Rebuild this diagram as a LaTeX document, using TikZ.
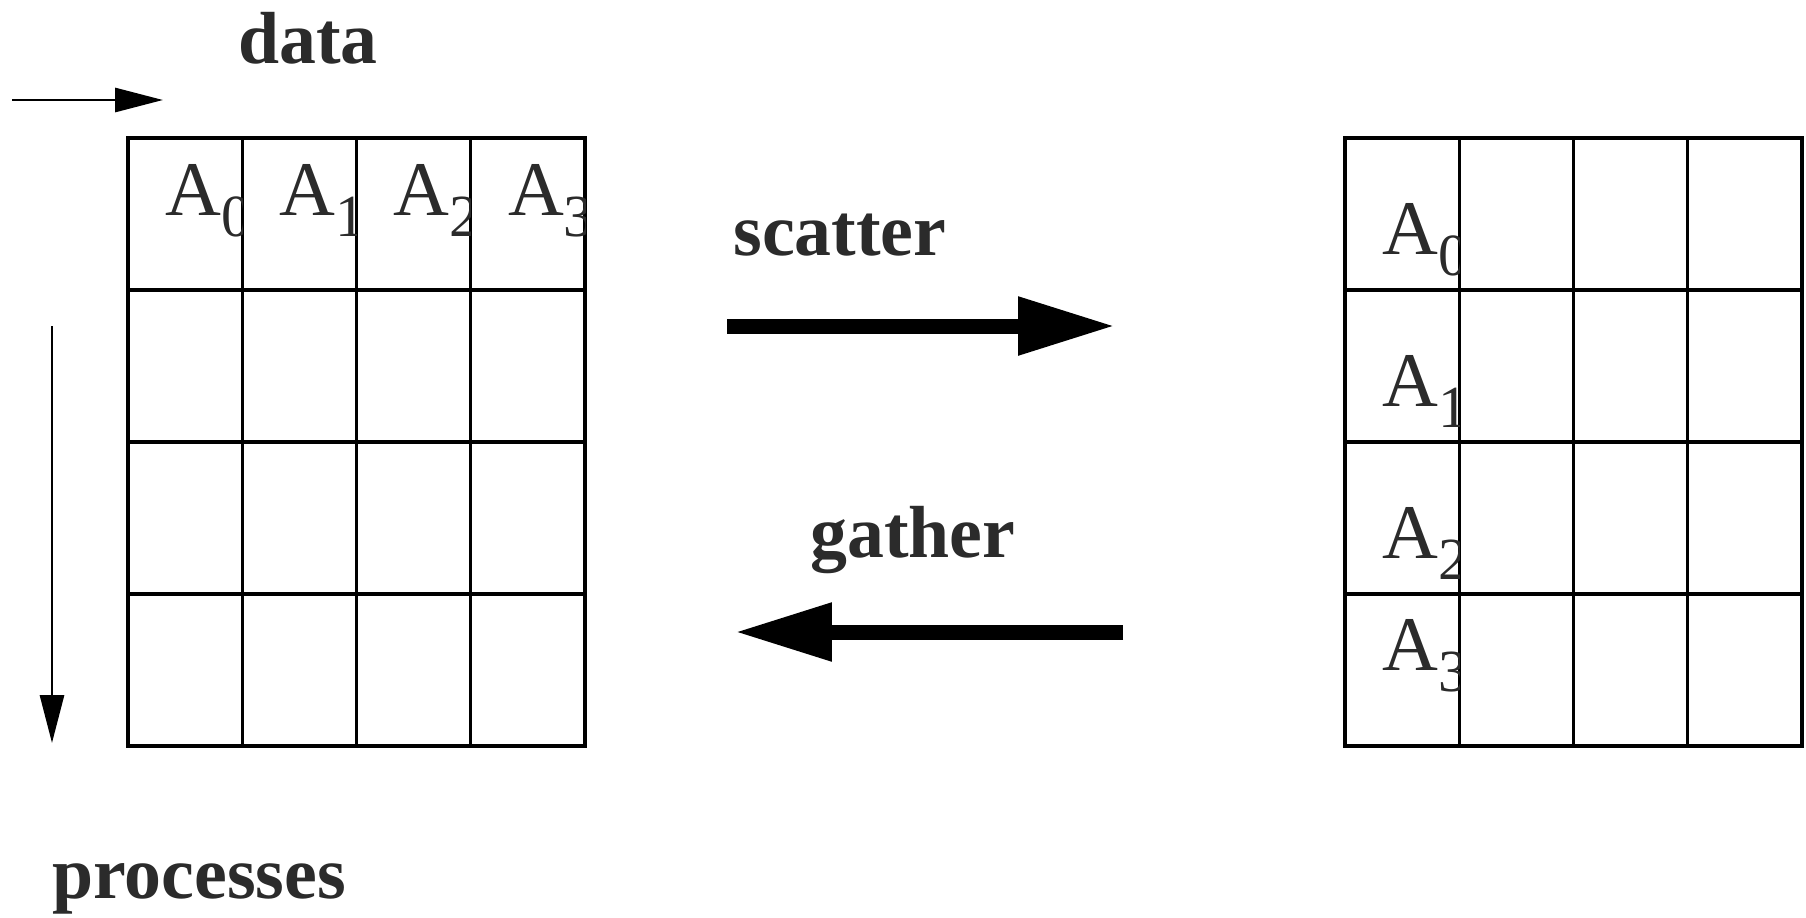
\documentclass[tikz,border=0pt]{standalone}
\usepackage{fontspec}
\setmainfont{Liberation Serif}
\usetikzlibrary{arrows.meta}
\definecolor{ink}{gray}{0.17}
\newcommand{\idx}[1]{\raisebox{-12.5pt}{\fontsize{34}{34}\selectfont #1}}

\begin{document}
\begin{tikzpicture}[x=0.02cm, y=-0.02cm,
  cell/.style={line width=1.9pt},
  word/.style={inner sep=0, anchor=base west, text=ink, font=\fontsize{42}{50}\selectfont\bfseries},
  entry/.style={inner sep=0, anchor=base west, text=ink, font=\fontsize{44}{50}\selectfont},
  slim/.style={line width=1.7pt, -{Triangle[length=0.96cm, width=0.48cm]}},
  fat/.style={line width=0.3cm, -{Triangle[length=1.94cm, width=1.1cm]}}]
  \useasboundingbox (0,0) rectangle (1806,917);

  % Axes
  \coordinate (d0) at (12,100);
  \coordinate (d1) at (163,100);
  \coordinate (p0) at (52,326);
  \coordinate (p1) at (52,743);
  \draw[slim] (d0) -- (d1);
  \draw[slim] (p0) -- (p1);
  \node[word] (data) at (238,63) {data};
  \node[word] (procs) at (52,898) {processes};

  % The two grids
  \foreach \gx in {128,1345} {
    \draw[cell] (\gx,138) rectangle ++(457,608);
    \foreach \k in {1,2,3} {
      \draw[cell] (\gx+\k*114.25,138) -- ++(0,608);
      \draw[cell] (\gx,138+\k*152) -- ++(457,0);
    }
  }

  % Entries, cut at the cell border
  \foreach \cx/\n in {128/0, 242.25/1, 356.5/2, 470.75/3} {
    \begin{scope}
      \clip (\cx,138) rectangle ++(114.25,152);
      \node[entry] (row\n) at (\cx+37,215) {A\idx{\n}};
    \end{scope}
  }
  \foreach \cy/\yb/\n in {138/254/0, 290/406/1, 442/558/2, 594/670/3} {
    \begin{scope}
      \clip (1345,\cy) rectangle ++(114.25,152);
      \node[entry] (col\n) at (1382,\yb) {A\idx{\n}};
    \end{scope}
  }

  % Scatter and gather
  \coordinate (s0) at (727,326);
  \coordinate (s1) at (1115,326);
  \coordinate (g0) at (1123,632);
  \coordinate (g1) at (735,632);
  \draw[fat] (s0) -- (s1);
  \draw[fat] (g0) -- (g1);
  \node[word] (scat) at (733,255) {scatter};
  \node[word] (gath) at (810,557) {gather};

\end{tikzpicture}
\end{document}
